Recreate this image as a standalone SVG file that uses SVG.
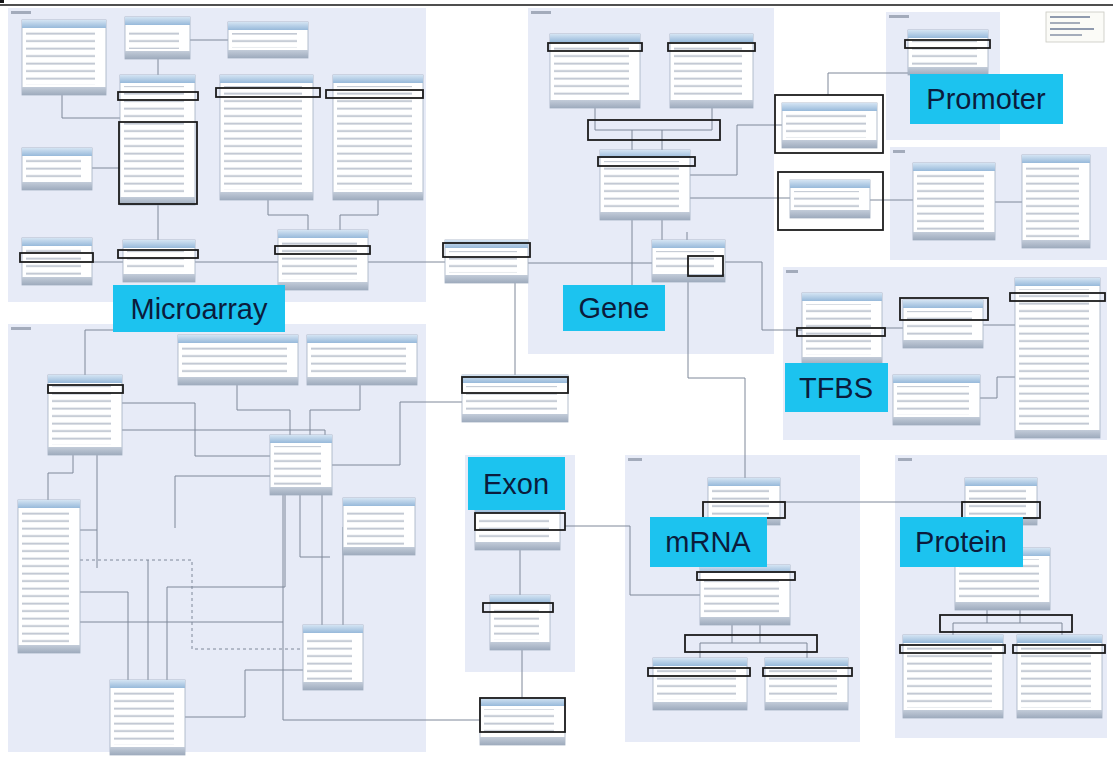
<svg xmlns="http://www.w3.org/2000/svg" width="1113" height="758" viewBox="0 0 1113 758">
  <defs>
    <linearGradient id="hdrGrad" x1="0" y1="0" x2="0" y2="1">
      <stop offset="0" stop-color="#d4e4f3"/>
      <stop offset="1" stop-color="#97b9da"/>
    </linearGradient>
    <linearGradient id="ftGrad" x1="0" y1="0" x2="0" y2="1">
      <stop offset="0" stop-color="#c3ccd9"/>
      <stop offset="1" stop-color="#9eabbd"/>
    </linearGradient>
    <!-- column rows of each table, drawn as faint bars -->
    <pattern id="rowBars" patternUnits="userSpaceOnUse" width="300" height="7.5">
      <rect x="0" y="2.6" width="300" height="2" fill="#8f9aae" opacity="0.55"/>
    </pattern>
  </defs>
  <style>
    .pkg { fill: #e7ebf7; }
    .pkt { fill: #a3abbb; }
    .bd { fill: #ffffff; stroke: #a2aec0; stroke-width: 0.8; }
    .hd { fill: url(#hdrGrad); }
    .rw { fill: url(#rowBars); }
    .ft { fill: url(#ftGrad); }
    .hl { fill: none; stroke: #1c1c1c; stroke-width: 1.8; }
    .cn path { fill: none; stroke: #7f8899; stroke-width: 1; }
    .cn .dash { stroke-dasharray: 3 3; }
    .lbl rect { fill: #1cc3ef; }
    .lbl text { font-family: "Liberation Sans", Arial, sans-serif; font-size: 29px; fill: #0b1c3c; text-anchor: middle; }
  </style>

  <rect x="0" y="0" width="1113" height="758" fill="#ffffff"/>

  <!-- packages -->
  <g id="packages">
    <rect class="pkg" x="8" y="8" width="418" height="294"/>
    <rect class="pkg" x="8" y="324" width="418" height="428"/>
    <rect class="pkg" x="528" y="8" width="246" height="346"/>
    <rect class="pkg" x="886" y="12" width="114" height="128"/>
    <rect class="pkg" x="890" y="147" width="217" height="113"/>
    <rect class="pkg" x="783" y="267" width="324" height="173"/>
    <rect class="pkg" x="465" y="455" width="110" height="217"/>
    <rect class="pkg" x="625" y="455" width="235" height="287"/>
    <rect class="pkg" x="895" y="455" width="212" height="283"/>
    <rect class="pkt" x="11" y="11" width="20" height="3"/>
    <rect class="pkt" x="11" y="327" width="20" height="3"/>
    <rect class="pkt" x="531" y="11" width="20" height="3"/>
    <rect class="pkt" x="889" y="15" width="20" height="3"/>
    <rect class="pkt" x="893" y="150" width="12" height="3"/>
    <rect class="pkt" x="786" y="270" width="12" height="3"/>
    <rect class="pkt" x="628" y="458" width="14" height="3"/>
    <rect class="pkt" x="898" y="458" width="14" height="3"/>
  </g>

  <!-- legend -->
  <g id="legend">
    <rect x="1046" y="12" width="58" height="30" fill="#fbfbf7" stroke="#c8c8c0" stroke-width="0.8"/>
    <rect x="1050" y="16" width="40" height="2" fill="#8f9aae"/>
    <rect x="1050" y="22" width="30" height="2" fill="#a5adbb"/>
    <rect x="1050" y="28" width="44" height="2" fill="#8f9aae"/>
    <rect x="1050" y="34" width="32" height="2" fill="#a5adbb"/>
  </g>

  <!-- connectors -->
  <g id="connectors" class="cn">
    <path d="M62 95 V118 H120"/>
    <path d="M158 59 V75"/>
    <path d="M190 40 H228"/>
    <path d="M92 168 H120"/>
    <path d="M158 205 V240"/>
    <path d="M268 200 V215 H308 V230"/>
    <path d="M378 200 V215 H340 V230"/>
    <path d="M92 262 H123"/>
    <path d="M195 262 H278"/>
    <path d="M368 262 H445"/>
    <path d="M528 263 H652"/>
    <path d="M595 108 V130 H712 V108"/>
    <path d="M632 130 V150 M662 130 V150"/>
    <path d="M632 220 V300"/>
    <path d="M662 220 V240 M687 232 V240"/>
    <path d="M690 175 H737 V125 H782"/>
    <path d="M690 198 H790"/>
    <path d="M725 262 H762 V330 H802"/>
    <path d="M688 282 V378 H745 V478"/>
    <path d="M515 283 V375"/>
    <path d="M462 402 H400 V465 H332"/>
    <path d="M565 526 H630 V595 H700"/>
    <path d="M520 550 V595"/>
    <path d="M522 650 V698"/>
    <path d="M480 720 H283 V495"/>
    <path d="M780 502 H965"/>
    <path d="M744 525 V565"/>
    <path d="M732 625 V643 M760 625 V643 M700 643 H807 M700 643 V658 M807 643 V658"/>
    <path d="M1000 525 V548"/>
    <path d="M987 610 V623 M1020 610 V623 M953 623 H1062 M953 623 V635 M1062 623 V635"/>
    <path d="M828 95 V73 H908"/>
    <path d="M870 200 H913"/>
    <path d="M995 202 H1022"/>
    <path d="M882 328 H903"/>
    <path d="M983 325 H1015"/>
    <path d="M980 398 H997 V377 H1015"/>
    <path d="M85 375 V330 H113"/>
    <path d="M237 385 V410 H290 V435"/>
    <path d="M360 385 V410 H310 V435"/>
    <path d="M122 403 H195 V456 H270"/>
    <path d="M122 430 H325 V435"/>
    <path d="M270 476 H175 V528"/>
    <path d="M285 495 V587 H167 V680"/>
    <path d="M300 495 V557 H330"/>
    <path d="M322 495 V625"/>
    <path d="M343 527 V625"/>
    <path d="M73 455 V473 H48 V500"/>
    <path d="M97 455 V568"/>
    <path d="M80 530 H97"/>
    <path class="dash" d="M80 560 H192 V649 H303"/>
    <path d="M80 592 H128 V680"/>
    <path d="M80 622 H283"/>
    <path d="M148 560 V680"/>
    <path d="M185 717 H245 V670 H303"/>
  </g>

  <!-- tables: top microarray package -->
  <g id="t1"><rect class="bd" x="22" y="20" width="84" height="75"/><rect class="hd" x="22" y="20" width="84" height="8"/><rect class="rw" x="26" y="31" width="69" height="54"/><rect class="ft" x="22" y="87" width="84" height="8"/></g>
  <g id="t2"><rect class="bd" x="125" y="17" width="65" height="42"/><rect class="hd" x="125" y="17" width="65" height="8"/><rect class="rw" x="129" y="28" width="50" height="21"/><rect class="ft" x="125" y="51" width="65" height="8"/></g>
  <g id="t3"><rect class="bd" x="228" y="22" width="80" height="36"/><rect class="hd" x="228" y="22" width="80" height="8"/><rect class="rw" x="232" y="33" width="65" height="15"/><rect class="ft" x="228" y="50" width="80" height="8"/></g>
  <g id="t4"><rect class="bd" x="120" y="75" width="75" height="130"/><rect class="hd" x="120" y="75" width="75" height="8"/><rect class="rw" x="124" y="86" width="60" height="109"/><rect class="ft" x="120" y="197" width="75" height="8"/></g>
  <g id="t5"><rect class="bd" x="220" y="75" width="93" height="125"/><rect class="hd" x="220" y="75" width="93" height="8"/><rect class="rw" x="224" y="86" width="78" height="104"/><rect class="ft" x="220" y="192" width="93" height="8"/></g>
  <g id="t6"><rect class="bd" x="333" y="75" width="90" height="125"/><rect class="hd" x="333" y="75" width="90" height="8"/><rect class="rw" x="337" y="86" width="75" height="104"/><rect class="ft" x="333" y="192" width="90" height="8"/></g>
  <g id="t7"><rect class="bd" x="22" y="148" width="70" height="42"/><rect class="hd" x="22" y="148" width="70" height="8"/><rect class="rw" x="26" y="159" width="55" height="21"/><rect class="ft" x="22" y="182" width="70" height="8"/></g>
  <g id="t8"><rect class="bd" x="22" y="238" width="70" height="47"/><rect class="hd" x="22" y="238" width="70" height="8"/><rect class="rw" x="26" y="249" width="55" height="26"/><rect class="ft" x="22" y="277" width="70" height="8"/></g>
  <g id="t9"><rect class="bd" x="123" y="240" width="72" height="42"/><rect class="hd" x="123" y="240" width="72" height="8"/><rect class="rw" x="127" y="251" width="57" height="21"/><rect class="ft" x="123" y="274" width="72" height="8"/></g>
  <g id="t10"><rect class="bd" x="278" y="230" width="90" height="60"/><rect class="hd" x="278" y="230" width="90" height="8"/><rect class="rw" x="282" y="241" width="75" height="39"/><rect class="ft" x="278" y="282" width="90" height="8"/></g>

  <!-- tables: gene package -->
  <g id="t11"><rect class="bd" x="550" y="34" width="90" height="74"/><rect class="hd" x="550" y="34" width="90" height="8"/><rect class="rw" x="554" y="45" width="75" height="53"/><rect class="ft" x="550" y="100" width="90" height="8"/></g>
  <g id="t12"><rect class="bd" x="670" y="34" width="83" height="74"/><rect class="hd" x="670" y="34" width="83" height="8"/><rect class="rw" x="674" y="45" width="68" height="53"/><rect class="ft" x="670" y="100" width="83" height="8"/></g>
  <g id="t13"><rect class="bd" x="600" y="150" width="90" height="70"/><rect class="hd" x="600" y="150" width="90" height="8"/><rect class="rw" x="604" y="161" width="75" height="49"/><rect class="ft" x="600" y="212" width="90" height="8"/></g>
  <g id="t14"><rect class="bd" x="445" y="240" width="83" height="43"/><rect class="hd" x="445" y="240" width="83" height="8"/><rect class="rw" x="449" y="251" width="68" height="22"/><rect class="ft" x="445" y="275" width="83" height="8"/></g>
  <g id="t15"><rect class="bd" x="652" y="240" width="73" height="42"/><rect class="hd" x="652" y="240" width="73" height="8"/><rect class="rw" x="656" y="251" width="58" height="21"/><rect class="ft" x="652" y="274" width="73" height="8"/></g>

  <!-- tables: promoter packages -->
  <g id="t16"><rect class="bd" x="908" y="30" width="80" height="45"/><rect class="hd" x="908" y="30" width="80" height="8"/><rect class="rw" x="912" y="41" width="65" height="24"/><rect class="ft" x="908" y="67" width="80" height="8"/></g>
  <g id="tq"><rect class="bd" x="782" y="103" width="95" height="45"/><rect class="hd" x="782" y="103" width="95" height="8"/><rect class="rw" x="786" y="114" width="80" height="24"/><rect class="ft" x="782" y="140" width="95" height="8"/></g>
  <g id="tr"><rect class="bd" x="790" y="180" width="80" height="38"/><rect class="hd" x="790" y="180" width="80" height="8"/><rect class="rw" x="794" y="191" width="65" height="17"/><rect class="ft" x="790" y="210" width="80" height="8"/></g>
  <g id="t17"><rect class="bd" x="913" y="163" width="82" height="77"/><rect class="hd" x="913" y="163" width="82" height="8"/><rect class="rw" x="917" y="174" width="67" height="56"/><rect class="ft" x="913" y="232" width="82" height="8"/></g>
  <g id="t18"><rect class="bd" x="1022" y="155" width="68" height="93"/><rect class="hd" x="1022" y="155" width="68" height="8"/><rect class="rw" x="1026" y="166" width="53" height="72"/><rect class="ft" x="1022" y="240" width="68" height="8"/></g>

  <!-- tables: TFBS package -->
  <g id="t19"><rect class="bd" x="802" y="293" width="80" height="72"/><rect class="hd" x="802" y="293" width="80" height="8"/><rect class="rw" x="806" y="304" width="65" height="51"/><rect class="ft" x="802" y="357" width="80" height="8"/></g>
  <g id="t20"><rect class="bd" x="903" y="300" width="80" height="48"/><rect class="hd" x="903" y="300" width="80" height="8"/><rect class="rw" x="907" y="311" width="65" height="27"/><rect class="ft" x="903" y="340" width="80" height="8"/></g>
  <g id="t21"><rect class="bd" x="1015" y="278" width="85" height="160"/><rect class="hd" x="1015" y="278" width="85" height="8"/><rect class="rw" x="1019" y="289" width="70" height="139"/><rect class="ft" x="1015" y="430" width="85" height="8"/></g>
  <g id="t22"><rect class="bd" x="893" y="375" width="87" height="50"/><rect class="hd" x="893" y="375" width="87" height="8"/><rect class="rw" x="897" y="386" width="72" height="29"/><rect class="ft" x="893" y="417" width="87" height="8"/></g>

  <!-- tables: lower microarray package -->
  <g id="t23"><rect class="bd" x="178" y="335" width="120" height="50"/><rect class="hd" x="178" y="335" width="120" height="8"/><rect class="rw" x="182" y="346" width="105" height="29"/><rect class="ft" x="178" y="377" width="120" height="8"/></g>
  <g id="t24"><rect class="bd" x="307" y="335" width="110" height="50"/><rect class="hd" x="307" y="335" width="110" height="8"/><rect class="rw" x="311" y="346" width="95" height="29"/><rect class="ft" x="307" y="377" width="110" height="8"/></g>
  <g id="t25"><rect class="bd" x="48" y="375" width="74" height="80"/><rect class="hd" x="48" y="375" width="74" height="8"/><rect class="rw" x="52" y="386" width="59" height="59"/><rect class="ft" x="48" y="447" width="74" height="8"/></g>
  <g id="t26"><rect class="bd" x="270" y="435" width="62" height="60"/><rect class="hd" x="270" y="435" width="62" height="8"/><rect class="rw" x="274" y="446" width="47" height="39"/><rect class="ft" x="270" y="487" width="62" height="8"/></g>
  <g id="t27"><rect class="bd" x="343" y="498" width="72" height="57"/><rect class="hd" x="343" y="498" width="72" height="8"/><rect class="rw" x="347" y="509" width="57" height="36"/><rect class="ft" x="343" y="547" width="72" height="8"/></g>
  <g id="t28"><rect class="bd" x="18" y="500" width="62" height="153"/><rect class="hd" x="18" y="500" width="62" height="8"/><rect class="rw" x="22" y="511" width="47" height="132"/><rect class="ft" x="18" y="645" width="62" height="8"/></g>
  <g id="t29"><rect class="bd" x="303" y="625" width="60" height="65"/><rect class="hd" x="303" y="625" width="60" height="8"/><rect class="rw" x="307" y="636" width="45" height="44"/><rect class="ft" x="303" y="682" width="60" height="8"/></g>
  <g id="t30"><rect class="bd" x="110" y="680" width="75" height="75"/><rect class="hd" x="110" y="680" width="75" height="8"/><rect class="rw" x="114" y="691" width="60" height="54"/><rect class="ft" x="110" y="747" width="75" height="8"/></g>

  <!-- tables: exon column -->
  <g id="t31"><rect class="bd" x="462" y="375" width="106" height="47"/><rect class="hd" x="462" y="375" width="106" height="8"/><rect class="rw" x="466" y="386" width="91" height="26"/><rect class="ft" x="462" y="414" width="106" height="8"/></g>
  <g id="t32"><rect class="bd" x="475" y="505" width="85" height="45"/><rect class="hd" x="475" y="505" width="85" height="8"/><rect class="rw" x="479" y="516" width="70" height="24"/><rect class="ft" x="475" y="542" width="85" height="8"/></g>
  <g id="t33"><rect class="bd" x="490" y="595" width="60" height="55"/><rect class="hd" x="490" y="595" width="60" height="8"/><rect class="rw" x="494" y="606" width="45" height="34"/><rect class="ft" x="490" y="642" width="60" height="8"/></g>
  <g id="t34"><rect class="bd" x="480" y="698" width="85" height="47"/><rect class="hd" x="480" y="698" width="85" height="8"/><rect class="rw" x="484" y="709" width="70" height="26"/><rect class="ft" x="480" y="737" width="85" height="8"/></g>

  <!-- tables: mRNA package -->
  <g id="t35"><rect class="bd" x="708" y="478" width="72" height="47"/><rect class="hd" x="708" y="478" width="72" height="8"/><rect class="rw" x="712" y="489" width="57" height="26"/><rect class="ft" x="708" y="517" width="72" height="8"/></g>
  <g id="t36"><rect class="bd" x="700" y="565" width="90" height="60"/><rect class="hd" x="700" y="565" width="90" height="8"/><rect class="rw" x="704" y="576" width="75" height="39"/><rect class="ft" x="700" y="617" width="90" height="8"/></g>
  <g id="t37"><rect class="bd" x="653" y="658" width="94" height="52"/><rect class="hd" x="653" y="658" width="94" height="8"/><rect class="rw" x="657" y="669" width="79" height="31"/><rect class="ft" x="653" y="702" width="94" height="8"/></g>
  <g id="t38"><rect class="bd" x="765" y="658" width="83" height="52"/><rect class="hd" x="765" y="658" width="83" height="8"/><rect class="rw" x="769" y="669" width="68" height="31"/><rect class="ft" x="765" y="702" width="83" height="8"/></g>

  <!-- tables: protein package -->
  <g id="t39"><rect class="bd" x="965" y="478" width="72" height="47"/><rect class="hd" x="965" y="478" width="72" height="8"/><rect class="rw" x="969" y="489" width="57" height="26"/><rect class="ft" x="965" y="517" width="72" height="8"/></g>
  <g id="t40"><rect class="bd" x="955" y="548" width="95" height="62"/><rect class="hd" x="955" y="548" width="95" height="8"/><rect class="rw" x="959" y="559" width="80" height="41"/><rect class="ft" x="955" y="602" width="95" height="8"/></g>
  <g id="t41"><rect class="bd" x="903" y="635" width="100" height="83"/><rect class="hd" x="903" y="635" width="100" height="8"/><rect class="rw" x="907" y="646" width="85" height="62"/><rect class="ft" x="903" y="710" width="100" height="8"/></g>
  <g id="t42"><rect class="bd" x="1017" y="635" width="85" height="83"/><rect class="hd" x="1017" y="635" width="85" height="8"/><rect class="rw" x="1021" y="646" width="70" height="62"/><rect class="ft" x="1017" y="710" width="85" height="8"/></g>

  <!-- emphasis frames -->
  <g id="frames">
    <rect class="hl" x="118" y="92" width="80" height="8"/>
    <rect class="hl" x="119" y="122" width="78" height="82"/>
    <rect class="hl" x="216" y="88" width="104" height="9"/>
    <rect class="hl" x="326" y="90" width="97" height="8"/>
    <rect class="hl" x="20" y="253" width="73" height="9"/>
    <rect class="hl" x="118" y="250" width="80" height="8"/>
    <rect class="hl" x="275" y="246" width="95" height="8"/>
    <rect class="hl" x="548" y="43" width="94" height="8"/>
    <rect class="hl" x="668" y="43" width="87" height="8"/>
    <rect class="hl" x="588" y="120" width="132" height="20"/>
    <rect class="hl" x="598" y="157" width="97" height="9"/>
    <rect class="hl" x="443" y="243" width="87" height="14"/>
    <rect class="hl" x="688" y="256" width="35" height="20"/>
    <rect class="hl" x="905" y="40" width="85" height="8"/>
    <rect class="hl" x="775" y="95" width="108" height="58"/>
    <rect class="hl" x="778" y="172" width="105" height="58"/>
    <rect class="hl" x="797" y="328" width="88" height="8"/>
    <rect class="hl" x="900" y="298" width="88" height="22"/>
    <rect class="hl" x="1010" y="293" width="95" height="8"/>
    <rect class="hl" x="48" y="385" width="75" height="8"/>
    <rect class="hl" x="462" y="377" width="106" height="16"/>
    <rect class="hl" x="475" y="513" width="90" height="17"/>
    <rect class="hl" x="483" y="603" width="70" height="9"/>
    <rect class="hl" x="480" y="698" width="85" height="34"/>
    <rect class="hl" x="703" y="502" width="82" height="16"/>
    <rect class="hl" x="697" y="572" width="98" height="8"/>
    <rect class="hl" x="685" y="635" width="132" height="17"/>
    <rect class="hl" x="648" y="668" width="102" height="8"/>
    <rect class="hl" x="763" y="668" width="89" height="8"/>
    <rect class="hl" x="962" y="502" width="78" height="16"/>
    <rect class="hl" x="940" y="615" width="132" height="17"/>
    <rect class="hl" x="900" y="645" width="105" height="8"/>
    <rect class="hl" x="1013" y="645" width="92" height="8"/>
  </g>

  <!-- section labels -->
  <g id="lbl-microarray" class="lbl"><rect x="113" y="285" width="172" height="47"/><text x="199" y="319">Microarray</text></g>
  <g id="lbl-gene" class="lbl"><rect x="563" y="285" width="102" height="46"/><text x="614" y="318">Gene</text></g>
  <g id="lbl-promoter" class="lbl"><rect x="910" y="74" width="153" height="50"/><text x="986" y="109">Promoter</text></g>
  <g id="lbl-tfbs" class="lbl"><rect x="785" y="363" width="103" height="49"/><text x="836" y="398">TFBS</text></g>
  <g id="lbl-exon" class="lbl"><rect x="468" y="457" width="97" height="53"/><text x="516" y="494">Exon</text></g>
  <g id="lbl-mrna" class="lbl"><rect x="650" y="517" width="117" height="50"/><text x="708" y="552">mRNA</text></g>
  <g id="lbl-protein" class="lbl"><rect x="900" y="517" width="123" height="50"/><text x="961" y="552">Protein</text></g>

  <!-- top rule -->
  <line x1="0" y1="5" x2="1113" y2="5" stroke="#151515" stroke-width="1.5"/>
  <rect x="0" y="0" width="4" height="3" fill="#151515"/>
</svg>
